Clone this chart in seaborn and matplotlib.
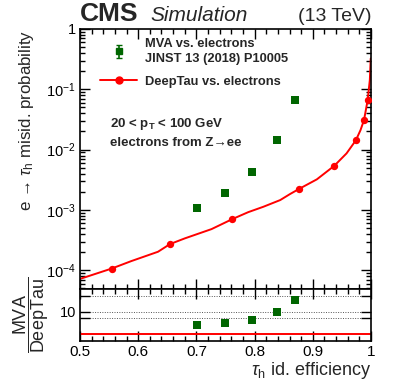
import numpy as np
import matplotlib
matplotlib.use("Agg")
import matplotlib.pyplot as plt
import seaborn as sns
from matplotlib.lines import Line2D
from matplotlib.ticker import LogLocator, MultipleLocator, NullFormatter, FixedLocator

# DeepTau vs. electrons, curve
curve_eff = [0.500, 0.5545, 0.588, 0.634, 0.6546, 0.680, 0.726, 0.7617, 0.789,
             0.815, 0.844, 0.861, 0.877, 0.907, 0.937, 0.958, 0.974, 0.982,
             0.988, 0.9943, 0.998, 0.9995]
curve_misid = [7.2e-5, 1.07e-4, 1.42e-4, 2.03e-4, 2.72e-4, 3.38e-4, 4.82e-4, 7.06e-4,
               9.2e-4, 1.13e-3, 1.46e-3, 1.84e-3, 2.25e-3, 3.22e-3, 5.41e-3, 8.68e-3,
               1.43e-2, 2.11e-2, 3.10e-2, 6.65e-2, 0.143, 0.324]

# DeepTau working points
wp_eff = [0.555, 0.655, 0.762, 0.877, 0.937, 0.974, 0.988, 0.994]
wp_misid = [1.07e-4, 2.72e-4, 7.06e-4, 2.25e-3, 5.41e-3, 1.43e-2, 3.10e-2, 6.65e-2]

# MVA vs. electrons (JINST 13 (2018) P10005)
mva_eff = [0.701, 0.749, 0.796, 0.838, 0.869]
mva_misid = [1.09e-3, 1.94e-3, 4.22e-3, 1.47e-2, 6.65e-2]
mva_ratio = [2.5, 3.1, 4.2, 10.0, 34.0]

yticks = [1e-4, 1e-3, 1e-2, 1e-1, 1]
ytick_labels = [r"$10^{-4}$", r"$10^{-3}$", r"$10^{-2}$", r"$10^{-1}$", "1"]
xticks = [0.5, 0.6, 0.7, 0.8, 0.9, 1.0]
xtick_labels = ["0.5", "0.6", "0.7", "0.8", "0.9", "1"]

RED = "#ff0000"
GREEN = "#006600"

sns.set_style("ticks")
plt.rcParams["font.family"] = ["Liberation Sans", "DejaVu Sans"]
plt.rcParams["mathtext.fontset"] = "custom"
plt.rcParams["mathtext.rm"] = "Liberation Sans"
plt.rcParams["mathtext.it"] = "Liberation Sans:italic"
plt.rcParams["mathtext.bf"] = "Liberation Sans:bold"

W, H = 399, 385
fig = plt.figure(figsize=(W / 100, H / 100), dpi=100)


def fx(px):
    return px / W


def fy(py):
    return 1 - py / H


L, R = 80, 371
ax = fig.add_axes([fx(L), fy(289), fx(R) - fx(L), fy(29) - fy(289)])
rax = fig.add_axes([fx(L), fy(341), fx(R) - fx(L), fy(289) - fy(341)], sharex=ax)

sns.lineplot(x=curve_eff, y=curve_misid, ax=ax, color=RED, lw=1.4, sort=False)
sns.scatterplot(x=wp_eff, y=wp_misid, ax=ax, color=RED, marker="o", s=28,
                edgecolor=RED, linewidth=0, zorder=4)
sns.scatterplot(x=mva_eff, y=mva_misid, ax=ax, color=GREEN, marker="s", s=26,
                edgecolor=GREEN, linewidth=0, zorder=5)

ax.set_yscale("log")
ax.set_xlim(0.5, 1.0)
ax.set_ylim(4.9e-5, 1)
ax.set_yticks(yticks, labels=ytick_labels)
ax.yaxis.set_minor_locator(LogLocator(base=10, subs=np.arange(2, 10)))
ax.yaxis.set_minor_formatter(NullFormatter())
ax.set_xticks(xticks)
ax.xaxis.set_minor_locator(MultipleLocator(0.02))
ax.tick_params(labelbottom=False)

# ratio panel
rax.axhline(1, color=RED, lw=1.4)
for g in [5, 10, 50]:
    rax.axhline(g, color="#555555", lw=0.7, ls=(0, (1, 1.5)), zorder=0)
sns.scatterplot(x=mva_eff, y=mva_ratio, ax=rax, color=GREEN, marker="s", s=26,
                edgecolor=GREEN, linewidth=0, zorder=5)
rax.set_yscale("log")
rax.set_ylim(0.5, 100)
rax.yaxis.set_major_locator(FixedLocator([5, 10, 50]))
rax.set_yticklabels(["", "10", ""])
rax.yaxis.set_minor_locator(FixedLocator([]))
rax.set_xticks(xticks, labels=xtick_labels)
rax.set_xlim(0.5, 1.0)

for a in (ax, rax):
    a.tick_params(which="both", direction="in", top=True, right=True, width=1.0,
                  colors="black", labelsize=10.5, pad=3)
    a.tick_params(which="major", length=7)
    a.tick_params(which="minor", length=3.5)
    for s in a.spines.values():
        s.set_linewidth(1.2)
        s.set_color("black")
    a.set_xlabel("")
    a.set_ylabel("")
rax.tick_params(axis="x", pad=3, labelsize=11)

# axis titles
fig.text(fx(27), fy(30), "e \u2192 $\\tau_{\\mathrm{h}}$ misid. probability",
         rotation=90, ha="center", va="top", fontsize=12.2)
fig.text(fx(31), fy(315), r"$\dfrac{\mathrm{MVA}}{\mathrm{DeepTau}}$",
         rotation=90, ha="center", va="center", fontsize=13)
fig.text(fx(R), fy(375), r"$\tau_{\mathrm{h}}$ id. efficiency",
         ha="right", va="baseline", fontsize=13)

# header
fig.text(fx(80), fy(21), "CMS", fontsize=19, fontweight="bold", ha="left", va="baseline")
fig.text(fx(150), fy(21), "Simulation", fontsize=15, fontstyle="italic",
         ha="left", va="baseline")
fig.text(fx(R), fy(21), "(13 TeV)", fontsize=14, ha="right", va="baseline")

# legend
h_mva = ax.errorbar([np.nan], [np.nan], yerr=[[np.nan], [np.nan]], fmt="s",
                    color=GREEN, ms=4.5, capsize=2, elinewidth=1.2)
h_dt = Line2D([], [], color=RED, lw=1.4, marker="o", ms=5)
leg = ax.legend([h_mva, h_dt],
                ["MVA vs. electrons\nJINST 13 (2018) P10005", "DeepTau vs. electrons"],
                loc="upper left", bbox_to_anchor=(fx(100), fy(38)),
                bbox_transform=fig.transFigure, frameon=False, handlelength=2.9,
                handletextpad=0.6, labelspacing=0.85, borderpad=0, borderaxespad=0,
                prop={"size": 9.3, "weight": "bold"})
for t in leg.get_texts():
    t.set_linespacing(1.32)

ax.text(0.103, 0.635, r"20 < p$_{\mathbf{T}}$ < 100 GeV", transform=ax.transAxes,
        fontsize=9.5, fontweight="bold", ha="left", va="center")
ax.text(0.103, 0.56, "electrons from Z\u2192ee", transform=ax.transAxes,
        fontsize=9.5, fontweight="bold", ha="left", va="center")

fig.savefig("out.png", dpi=100)
